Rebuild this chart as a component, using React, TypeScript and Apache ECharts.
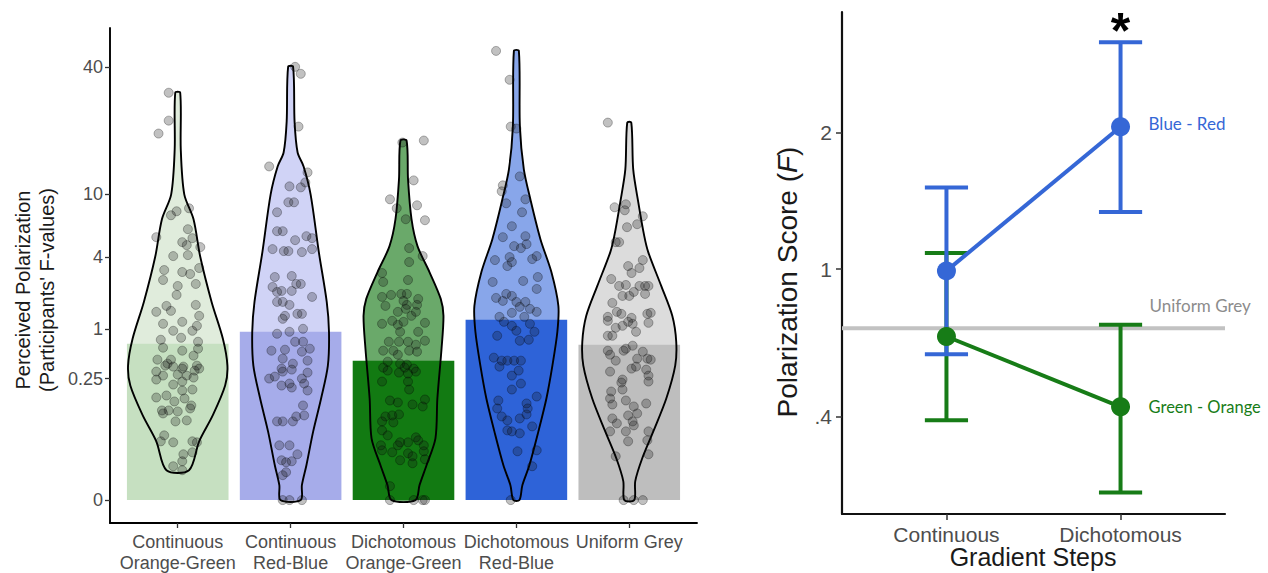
import React, { useEffect, useRef } from 'react';
import * as echarts from 'echarts';

// ---------- Left panel data (y in the plot's transformed polarization scale) ----------
const GROUPS = ['Continuous\nOrange-Green', 'Continuous\nRed-Blue', 'Dichotomous\nOrange-Green', 'Dichotomous\nRed-Blue', 'Uniform Grey'];
const BAR_COLORS = ['#c6e0c1', '#a6acea', '#127a12', '#2e63d8', '#bebebe'];
const VIOLIN_COLORS = ['#e0ecdc', '#d0d3f6', '#6aa96a', '#88a6ea', '#dcdcdc'];
const BAR_MEANS = [1.57, 1.69, 1.40, 1.81, 1.56];
const Y_TICK_POS = [0, 1.22, 1.72, 2.44, 3.07, 4.35];
const Y_TICK_LABELS = ['0', '0.25', '1', '4', '10', '40'];

// violin profiles: [scaled value, half width in category units]
const VIOLIN_G1 = [[4.09,0.022],[3.52,0.027],[3.07,0.058],[2.82,0.14],[2.44,0.20],[1.99,0.30],[1.62,0.40],[1.35,0.44],[1.15,0.42],[0.85,0.31],[0.59,0.19],[0.30,0.10]];
const VIOLIN_G2 = [[4.35,0.022],[3.8,0.035],[3.49,0.062],[3.35,0.115],[3.07,0.177],[2.49,0.25],[1.99,0.32],[1.69,0.34],[1.35,0.33],[1.02,0.27],[0.69,0.20],[0.35,0.14],[0.15,0.10],[0,0.09]];
const VIOLIN_G3 = [[3.61,0.027],[3.22,0.04],[2.82,0.071],[2.55,0.124],[2.29,0.23],[2.02,0.33],[1.85,0.354],[1.52,0.337],[1.02,0.30],[0.62,0.283],[0.35,0.204],[0.15,0.142],[0,0.106]];
const VIOLIN_G4 = [[4.51,0.022],[3.75,0.031],[3.32,0.066],[3.02,0.124],[2.62,0.213],[2.29,0.31],[1.95,0.372],[1.69,0.363],[1.35,0.319],[1.02,0.266],[0.69,0.195],[0.35,0.115],[0.15,0.053],[0,0.027]];
const VIOLIN_G5 = [[3.79,0.018],[3.32,0.035],[2.99,0.08],[2.65,0.133],[2.49,0.168],[2.15,0.283],[1.85,0.381],[1.59,0.416],[1.35,0.407],[1.02,0.328],[0.69,0.213],[0.42,0.115],[0.19,0.053],[0,0.044]];

// participants: [jitter offset, scaled value]
const POINTS_G1 = [[-0.08,4.09],[-0.08,3.81],[-0.17,3.68],[-0.01,2.90],[-0.06,2.86],[0.10,2.93],[-0.19,2.64],[0.09,2.72],[0.04,2.59],[0.13,2.63],[0.08,2.56],[0.20,2.54],[-0.04,2.45],[0.09,2.46],[-0.12,2.31],[0.04,2.29],[0.11,2.27],[0.19,2.33],[-0.13,2.21],[0.00,2.15],[0.16,2.17],[-0.01,2.06],[-0.10,1.95],[0.16,1.96],[-0.19,1.89],[-0.06,1.90],[0.19,1.85],[-0.13,1.77],[0.04,1.79],[0.17,1.75],[-0.04,1.70],[0.13,1.70],[-0.15,1.61],[0.03,1.63],[0.18,1.59],[-0.13,1.53],[0.18,1.52],[0.04,1.50],[-0.18,1.41],[-0.06,1.41],[0.14,1.45],[-0.09,1.37],[-0.11,1.35],[-0.04,1.34],[0.05,1.34],[0.17,1.35],[-0.19,1.29],[0.04,1.32],[0.15,1.30],[0.19,1.32],[-0.13,1.25],[0.00,1.26],[0.08,1.25],[-0.19,1.21],[0.04,1.19],[0.14,1.23],[-0.04,1.16],[0.13,1.11],[0.04,1.10],[-0.19,1.03],[-0.10,1.05],[0.06,1.02],[-0.03,0.99],[0.12,0.95],[0.11,0.92],[-0.14,0.90],[-0.13,0.87],[-0.08,0.90],[0.00,0.89],[0.08,0.80],[-0.02,0.79],[-0.12,0.65],[-0.15,0.59],[-0.04,0.58],[0.13,0.59],[0.17,0.58],[0.05,0.46],[0.13,0.48],[0.04,0.39],[-0.04,0.34],[0.04,0.30]];
const POINTS_G2 = [[0.04,4.35],[0.09,4.28],[0.07,3.75],[-0.19,3.35],[0.15,3.29],[0.13,3.19],[-0.01,3.15],[0.09,3.14],[-0.02,2.99],[0.03,2.99],[-0.12,2.89],[-0.12,2.70],[-0.07,2.70],[0.04,2.61],[0.14,2.65],[0.19,2.63],[-0.16,2.52],[-0.06,2.50],[-0.02,2.50],[0.10,2.49],[0.19,2.52],[-0.14,2.24],[0.01,2.25],[0.05,2.17],[0.09,2.17],[-0.16,2.14],[-0.12,2.09],[-0.08,2.10],[0.01,2.10],[0.19,2.04],[-0.12,1.99],[-0.07,1.99],[-0.01,1.96],[0.10,1.87],[-0.05,1.85],[-0.07,1.82],[0.06,1.87],[0.11,1.72],[-0.12,1.67],[-0.01,1.69],[0.04,1.59],[0.11,1.59],[0.17,1.52],[-0.17,1.50],[-0.05,1.51],[0.10,1.49],[-0.07,1.42],[0.15,1.40],[0.02,1.37],[-0.08,1.32],[0.01,1.31],[-0.07,1.29],[0.15,1.28],[-0.19,1.22],[-0.14,1.24],[0.10,1.22],[-0.01,1.17],[0.12,1.17],[-0.08,1.15],[0.01,1.13],[0.15,1.10],[0.11,0.95],[0.12,0.85],[-0.12,0.79],[-0.07,0.79],[0.02,0.79],[0.05,0.84],[-0.10,0.55],[-0.01,0.55],[0.06,0.46],[-0.08,0.40],[-0.04,0.38],[0.01,0.39],[-0.07,0.25],[-0.04,0.28],[-0.07,0.00],[-0.01,0.00],[0.10,0.00]];
const POINTS_G3 = [[-0.01,3.59],[0.18,3.61],[0.09,3.21],[-0.12,3.02],[-0.06,2.93],[0.12,2.96],[0.19,2.81],[0.02,2.82],[0.05,2.53],[0.05,2.39],[0.17,2.45],[-0.19,2.28],[0.04,2.21],[-0.18,2.19],[-0.19,2.04],[-0.11,2.06],[-0.02,2.07],[0.03,2.07],[0.13,2.02],[0.00,2.00],[-0.16,1.95],[0.03,1.96],[0.12,1.96],[-0.05,1.89],[0.07,1.85],[0.11,1.89],[0.02,1.92],[0.19,1.78],[-0.19,1.77],[-0.10,1.80],[-0.05,1.76],[0.00,1.79],[0.13,1.69],[-0.03,1.69],[-0.13,1.59],[-0.04,1.59],[0.04,1.59],[0.11,1.56],[0.19,1.60],[-0.18,1.50],[-0.09,1.50],[0.05,1.50],[0.12,1.49],[-0.05,1.46],[-0.14,1.39],[-0.03,1.37],[0.03,1.36],[0.01,1.33],[0.09,1.32],[-0.18,1.33],[-0.14,1.30],[-0.04,1.28],[0.04,1.27],[0.11,1.29],[-0.19,1.19],[0.04,1.19],[0.05,1.11],[-0.12,1.00],[-0.05,0.98],[0.08,0.96],[0.19,1.01],[0.17,0.94],[-0.16,0.84],[-0.10,0.85],[-0.04,0.86],[-0.19,0.79],[-0.09,0.78],[-0.19,0.70],[-0.14,0.65],[-0.20,0.55],[-0.05,0.55],[-0.03,0.58],[0.04,0.58],[0.11,0.63],[0.13,0.60],[0.18,0.55],[-0.19,0.50],[-0.10,0.48],[0.04,0.47],[0.08,0.44],[0.18,0.49],[0.19,0.41],[-0.03,0.40],[0.08,0.37],[-0.12,0.14],[-0.12,0.00],[0.09,0.00],[0.17,0.00],[0.19,0.00]];
const POINTS_G4 = [[-0.18,4.51],[-0.06,4.22],[-0.05,3.75],[0.00,3.73],[0.03,3.25],[-0.12,3.16],[-0.13,3.10],[0.08,3.02],[-0.09,2.98],[0.05,2.89],[-0.04,2.75],[-0.12,2.64],[0.08,2.65],[-0.02,2.55],[0.04,2.53],[0.09,2.57],[-0.19,2.41],[-0.06,2.44],[-0.08,2.35],[-0.04,2.39],[0.14,2.42],[0.18,2.45],[0.06,2.20],[0.19,2.24],[-0.21,2.19],[0.18,2.12],[-0.09,2.07],[-0.04,2.05],[-0.18,2.03],[0.00,1.99],[0.08,1.99],[0.03,1.94],[0.12,1.92],[0.18,1.89],[-0.15,1.84],[-0.04,1.88],[-0.12,2.00],[-0.11,1.79],[-0.04,1.75],[0.07,1.84],[0.12,1.77],[0.00,1.70],[0.16,1.69],[-0.17,1.65],[0.03,1.60],[0.11,1.61],[-0.20,1.43],[-0.13,1.40],[-0.08,1.40],[-0.02,1.40],[0.04,1.40],[-0.15,1.34],[0.02,1.30],[-0.04,1.25],[0.04,1.17],[-0.04,1.11],[-0.16,1.00],[0.09,0.97],[0.18,1.04],[0.10,0.92],[-0.17,0.92],[-0.13,0.84],[-0.08,0.80],[0.03,0.82],[0.09,0.86],[0.14,0.74],[-0.08,0.70],[-0.04,0.69],[0.03,0.67],[0.01,0.49],[0.18,0.50],[0.14,0.34],[-0.05,0.00]];
const POINTS_G5 = [[-0.19,3.79],[-0.13,2.94],[-0.03,2.97],[-0.04,2.91],[0.12,2.85],[0.07,2.77],[-0.02,2.74],[-0.12,2.59],[-0.09,2.59],[0.12,2.41],[-0.01,2.35],[0.09,2.33],[0.02,2.28],[-0.16,2.22],[-0.09,2.15],[-0.03,2.16],[0.09,2.15],[0.14,2.15],[0.17,2.15],[0.04,2.09],[-0.06,2.05],[0.00,2.05],[0.14,2.07],[-0.15,1.98],[-0.11,1.89],[-0.07,1.87],[-0.19,1.84],[0.02,1.83],[0.16,1.87],[0.19,1.88],[0.17,1.78],[-0.19,1.80],[-0.01,1.79],[0.03,1.77],[-0.12,1.73],[-0.06,1.75],[0.06,1.69],[-0.19,1.65],[-0.15,1.65],[-0.03,1.52],[0.03,1.55],[-0.05,1.50],[-0.19,1.50],[0.12,1.49],[0.16,1.42],[0.19,1.41],[-0.17,1.46],[-0.12,1.40],[0.07,1.42],[0.02,1.32],[0.06,1.34],[0.15,1.31],[-0.17,1.29],[0.17,1.25],[-0.06,1.21],[-0.07,1.18],[0.17,1.19],[-0.16,1.09],[-0.06,1.11],[-0.17,1.02],[-0.15,0.96],[-0.03,1.00],[0.04,0.94],[0.07,0.87],[0.15,0.97],[-0.01,0.85],[-0.15,0.82],[-0.11,0.77],[0.03,0.79],[0.04,0.75],[-0.17,0.69],[-0.03,0.69],[0.17,0.69],[-0.01,0.59],[0.16,0.60],[-0.12,0.44],[0.17,0.46],[-0.05,0.00],[0.04,0.00],[0.12,0.00]];

const VIOLINS = [VIOLIN_G1, VIOLIN_G2, VIOLIN_G3, VIOLIN_G4, VIOLIN_G5];
const POINTS = [POINTS_G1, POINTS_G2, POINTS_G3, POINTS_G4, POINTS_G5];

// ---------- Right panel data (F values) ----------
const STEPS = ['Continuous', 'Dichotomous'];
const BLUE_RED = [0.99, 2.06];
const BLUE_RED_LO = [0.61, 1.35];
const BLUE_RED_HI = [1.53, 3.06];
const GREEN_ORANGE = [0.68, 0.43];
const GREEN_ORANGE_LO = [0.39, 0.21];
const GREEN_ORANGE_HI = [1.09, 0.73];
const UNIFORM_GREY = 0.715;
const R_TICKS = [0.4, 1, 2];
const R_TICK_LABELS = ['.4', '1', '2'];
const R_MIN = 0.166;
const R_MAX = 3.515;

const tr = (f: number) => Math.log(f + 0.3);

const FONT = 'Liberation Sans, Arial, sans-serif';
const BLUE = '#3567d6';
const GREEN = '#177c17';

export default function App() {
  const ref = useRef<HTMLDivElement>(null);
  useEffect(() => {
    if (!ref.current) return;
    const chart = echarts.init(ref.current, null, { renderer: 'svg' });

    const violinItem = (fill: boolean) => (params: any, api: any) => {
      const g = params.dataIndex;
      const prof = VIOLINS[g];
      const x = g + 1;
      const right = prof.map(([t, hw]) => api.coord([x + hw, t]));
      const left = prof.slice().reverse().map(([t, hw]) => api.coord([x - hw, t]));
      return {
        type: 'polygon',
        shape: { points: right.concat(left), smooth: 0.3 },
        style: fill
          ? { fill: VIOLIN_COLORS[g], stroke: 'none' }
          : { fill: 'none', stroke: '#000', lineWidth: 1.9 },
      };
    };

    const scatterData: number[][] = [];
    POINTS.forEach((pts, g) => pts.forEach(([dx, t]) => scatterData.push([g + 1 + dx, t])));

    const errItem = (lo: number[], hi: number[], color: string) => (params: any, api: any) => {
      const i = params.dataIndex;
      const x = i + 1;
      const top = api.coord([x, tr(hi[i])]);
      const bot = api.coord([x, tr(lo[i])]);
      const capL = api.coord([x - 0.124, tr(hi[i])])[0];
      const capR = api.coord([x + 0.124, tr(hi[i])])[0];
      const st = { stroke: color, lineWidth: 4 };
      return {
        type: 'group',
        children: [
          { type: 'line', shape: { x1: top[0], y1: top[1], x2: bot[0], y2: bot[1] }, style: st },
          { type: 'line', shape: { x1: capL, y1: top[1], x2: capR, y2: top[1] }, style: st },
          { type: 'line', shape: { x1: capL, y1: bot[1], x2: capR, y2: bot[1] }, style: st },
        ],
      };
    };

    const option: any = {
      animation: false,
      grid: [
        { left: 110, top: 28, width: 587, height: 497, containLabel: false },
        { left: 842, top: 12, width: 383, height: 502, containLabel: false },
      ],
      xAxis: [
        {
          gridIndex: 0, type: 'value', min: 0.4, max: 5.6,
          axisLine: { show: true, onZero: false, lineStyle: { color: '#000', width: 1.9 } },
          axisTick: { show: true, length: 5, customValues: [1, 2, 3, 4, 5], lineStyle: { color: '#333', width: 1.3 } },
          axisLabel: {
            customValues: [1, 2, 3, 4, 5], margin: 8, color: '#4d4d4d', fontSize: 18, fontFamily: FONT, lineHeight: 21,
            formatter: (v: number) => GROUPS[Math.round(v) - 1] || '',
          },
          splitLine: { show: false },
        },
        {
          gridIndex: 1, type: 'value', min: 0.4, max: 2.6,
          axisLine: { show: true, onZero: false, lineStyle: { color: '#111', width: 2.2 } },
          axisTick: { show: true, length: 6, customValues: [1, 2], lineStyle: { color: '#333', width: 1.5 } },
          axisLabel: {
            customValues: [1, 2], margin: 10, color: '#4d4d4d', fontSize: 21, fontFamily: FONT,
            formatter: (v: number) => STEPS[Math.round(v) - 1] || '',
          },
          splitLine: { show: false },
        },
      ],
      yAxis: [
        {
          gridIndex: 0, type: 'value', min: -0.23, max: 4.74,
          axisLine: { show: true, onZero: false, lineStyle: { color: '#000', width: 1.9 } },
          axisTick: { show: true, length: 5, customValues: Y_TICK_POS, lineStyle: { color: '#333', width: 1.3 } },
          axisLabel: {
            customValues: Y_TICK_POS, margin: 7, color: '#4d4d4d', fontSize: 18, fontFamily: FONT,
            formatter: (v: number) => {
              const i = Y_TICK_POS.findIndex((p) => Math.abs(p - v) < 1e-6);
              return i >= 0 ? Y_TICK_LABELS[i] : '';
            },
          },
          splitLine: { show: false },
        },
        {
          gridIndex: 1, type: 'value', min: tr(R_MIN), max: tr(R_MAX),
          name: '{a|Polarization Score (}{b|F}{a|)}',
          nameLocation: 'middle', nameRotate: 90, nameGap: 41,
          nameTextStyle: {
            fontSize: 28, fontFamily: FONT, color: '#1a1a1a',
            padding: [0, 38, 0, 0],
            rich: {
              a: { fontSize: 28, fontFamily: FONT, color: '#1a1a1a' },
              b: { fontSize: 28, fontFamily: FONT, fontStyle: 'italic', color: '#1a1a1a' },
            },
          },
          axisLine: { show: true, onZero: false, lineStyle: { color: '#111', width: 2.2 } },
          axisTick: { show: true, length: 6, customValues: R_TICKS.map(tr), lineStyle: { color: '#333', width: 1.5 } },
          axisLabel: {
            customValues: R_TICKS.map(tr), margin: 10, color: '#4d4d4d', fontSize: 21, fontFamily: FONT,
            formatter: (v: number) => {
              const i = R_TICKS.findIndex((p) => Math.abs(tr(p) - v) < 1e-6);
              return i >= 0 ? R_TICK_LABELS[i] : '';
            },
          },
          splitLine: { show: false },
        },
      ],
      series: [
        {
          type: 'custom', xAxisIndex: 0, yAxisIndex: 0, z: 1,
          data: [[1, 0], [2, 0], [3, 0], [4, 0], [5, 0]], encode: { x: 0, y: 1 },
          renderItem: violinItem(true),
        },
        {
          type: 'custom', xAxisIndex: 0, yAxisIndex: 0, z: 2,
          data: BAR_MEANS.map((m, i) => [i + 1, m]), encode: { x: 0, y: 1 },
          renderItem: (params: any, api: any) => {
            const i = params.dataIndex;
            const p1 = api.coord([i + 1 - 0.45, BAR_MEANS[i]]);
            const p2 = api.coord([i + 1 + 0.45, 0]);
            return {
              type: 'rect',
              shape: { x: p1[0], y: p1[1], width: p2[0] - p1[0], height: p2[1] - p1[1] },
              style: { fill: BAR_COLORS[i] },
            };
          },
        },
        {
          type: 'custom', xAxisIndex: 0, yAxisIndex: 0, z: 3,
          data: [[1, 0], [2, 0], [3, 0], [4, 0], [5, 0]], encode: { x: 0, y: 1 },
          renderItem: violinItem(false),
        },
        {
          type: 'scatter', xAxisIndex: 0, yAxisIndex: 0, z: 4,
          data: scatterData, symbolSize: 9,
          itemStyle: { color: 'rgba(20,20,20,0.33)', borderColor: 'rgba(0,0,0,0.4)', borderWidth: 0.9 },
        },
        // right panel
        {
          type: 'line', xAxisIndex: 1, yAxisIndex: 1, z: 2,
          data: [[0.4, tr(UNIFORM_GREY)], [2.6, tr(UNIFORM_GREY)]],
          symbol: 'none', lineStyle: { color: '#c2c2c2', width: 4 },
        },
        {
          type: 'custom', xAxisIndex: 1, yAxisIndex: 1, z: 3,
          data: GREEN_ORANGE.map((v, i) => [i + 1, tr(v)]), encode: { x: 0, y: 1 },
          renderItem: errItem(GREEN_ORANGE_LO, GREEN_ORANGE_HI, GREEN),
        },
        {
          type: 'custom', xAxisIndex: 1, yAxisIndex: 1, z: 3,
          data: BLUE_RED.map((v, i) => [i + 1, tr(v)]), encode: { x: 0, y: 1 },
          renderItem: errItem(BLUE_RED_LO, BLUE_RED_HI, BLUE),
        },
        {
          type: 'line', xAxisIndex: 1, yAxisIndex: 1, z: 4,
          data: BLUE_RED.map((v, i) => [i + 1, tr(v)]),
          symbol: 'circle', symbolSize: 19,
          lineStyle: { color: BLUE, width: 4 }, itemStyle: { color: BLUE },
          endLabel: { show: true, formatter: 'Blue - Red', color: BLUE, fontFamily: 'Lato', fontSize: 17, distance: 28, offset: [0, -3] },
        },
        {
          type: 'line', xAxisIndex: 1, yAxisIndex: 1, z: 4,
          data: GREEN_ORANGE.map((v, i) => [i + 1, tr(v)]),
          symbol: 'circle', symbolSize: 19,
          lineStyle: { color: GREEN, width: 4 }, itemStyle: { color: GREEN },
          endLabel: { show: true, formatter: 'Green - Orange', color: GREEN, fontFamily: 'Lato', fontSize: 16.5, distance: 28 },
        },
      ],
    };
    chart.setOption(option);

    const greyPt = chart.convertToPixel({ xAxisIndex: 1, yAxisIndex: 1 }, [2, tr(UNIFORM_GREY)]) as number[];
    const starPt = chart.convertToPixel({ xAxisIndex: 1, yAxisIndex: 1 }, [2, tr(BLUE_RED_HI[1])]) as number[];

    chart.setOption({
      graphic: [
        {
          type: 'text', x: 23, y: 290, rotation: Math.PI / 2,
          style: { text: 'Perceived Polarization', fill: '#1a1a1a', font: `20px ${FONT}`, textAlign: 'center', textVerticalAlign: 'middle' },
        },
        {
          type: 'text', x: 47, y: 290, rotation: Math.PI / 2,
          style: { text: "(Participants' F-values)", fill: '#1a1a1a', font: `20px ${FONT}`, textAlign: 'center', textVerticalAlign: 'middle' },
        },
        {
          type: 'text', x: 1033, y: 557,
          style: { text: 'Gradient Steps', fill: '#1a1a1a', font: `25px ${FONT}`, textAlign: 'center', textVerticalAlign: 'middle' },
        },
        {
          type: 'text', x: greyPt[0] + 29, y: greyPt[1] - 23,
          style: { text: 'Uniform Grey', fill: '#8c8c8c', font: '17px Lato', textAlign: 'left', textVerticalAlign: 'middle' },
        },
        {
          type: 'text', x: starPt[0], y: starPt[1] - 11,
          style: { text: '*', fill: '#000', font: `bold 50px ${FONT}`, textAlign: 'center', textVerticalAlign: 'middle' },
        },
      ],
    });

    return () => chart.dispose();
  }, []);
  return <div ref={ref} style={{ position: 'absolute', left: 0, top: 0, width: 1268, height: 573 }} />;
}
